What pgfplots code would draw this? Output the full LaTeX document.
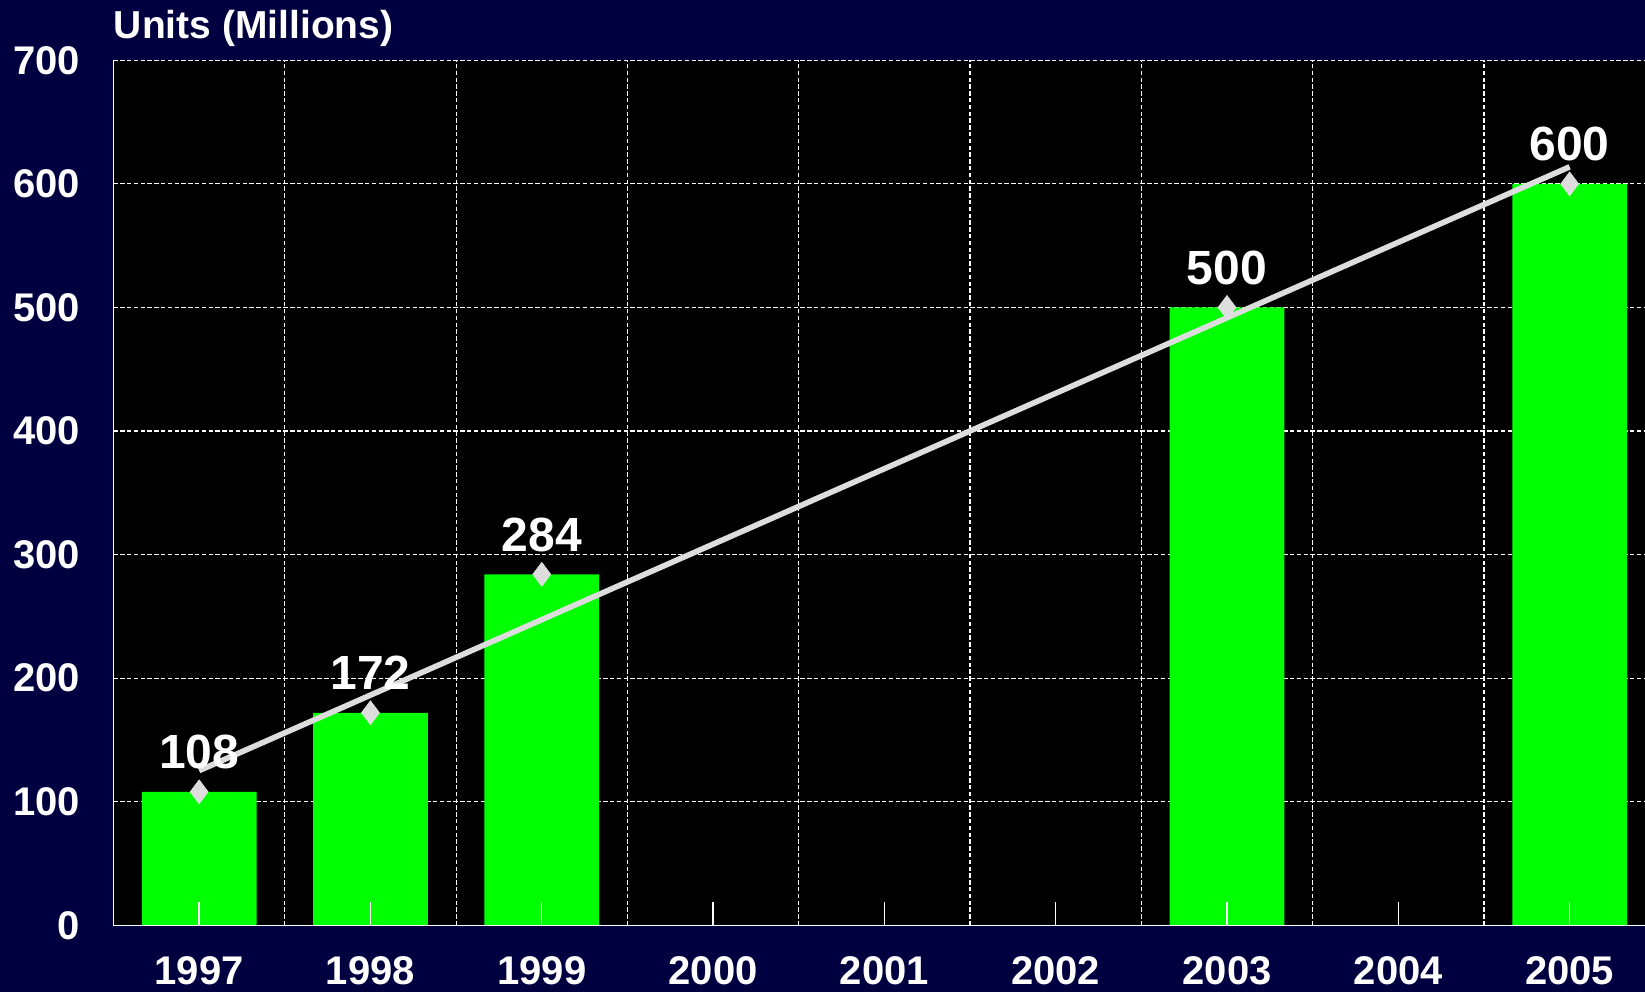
\documentclass[border=0pt]{standalone}
\usepackage{fontspec}
\setmainfont{Liberation Sans}
\usepackage{pgfplots}
\pgfplotsset{compat=1.18}
\definecolor{navybg}{RGB}{0,0,64}
\definecolor{barGreen}{RGB}{0,255,0}
\definecolor{trendGray}{RGB}{221,221,221}

\begin{document}
\begin{tikzpicture}
% page background (picture is cropped on the right, like the original)
\fill[navybg] (-56.75pt,-33.35pt) rectangle (765.75pt,462.65pt);
\begin{axis}[
    scale only axis,
    width=770.9pt, height=432.5pt,
    xmin=-0.5, xmax=8.5, ymin=0, ymax=700,
    axis background/.style={fill=black},
    separate axis lines,
    axis x line*=bottom, axis y line*=left,
    axis line style={white, line width=0.8pt},
    xtick={0,...,8},
    xticklabels={1997,1998,1999,2000,2001,2002,2003,2004,2005},
    minor xtick={0.5,1.5,...,7.5},
    ytick={0,100,...,700},
    major tick length=0pt, minor tick length=0pt,
    xmajorgrids=false, xminorgrids=true, ymajorgrids=true,
    grid style={white, line width=0.6pt, dash pattern=on 2.2pt off 1.2pt},
    minor grid style={white, line width=0.6pt, dash pattern=on 2.2pt off 1.2pt},
    tick label style={white, font=\fontsize{20}{24}\selectfont\bfseries},
    /pgf/number format/assume math mode=true,
    yticklabel style={anchor=east, inner sep=0pt, xshift=-16.5pt},
    xticklabel style={anchor=base, inner sep=0pt, yshift=-29.5pt},
    title={Units (Millions)},
    title style={at={(0,1)}, anchor=base west, inner sep=0pt, yshift=4.8pt,
        text=white, font=\fontsize{19.5}{23}\selectfont\bfseries},
    clip=false,
]
    \addplot[ybar, bar width=0.67, bar shift=0pt, fill=barGreen, draw=none]
        coordinates {(0,108) (1,172) (2,284) (6,500) (8,600)};
    \addplot[only marks, mark=diamond*, mark size=6pt,
        mark options={fill=trendGray, draw=trendGray, line width=0.3pt},
        nodes near coords,
        every node near coord/.append style={text=white, anchor=base,
            inner sep=0pt, yshift=11.5pt,
            font=\fontsize{24}{28}\selectfont\bfseries}]
        coordinates {(0,108) (1,172) (2,284) (6,500) (8,600)};
    % linear trend
    \addplot[trendGray, line width=2.8pt, no marks]
        coordinates {(0,125.2) (8,613.8)};
\end{axis}
% overlay: bottom axis line and inward ticks on top of the bars
\begin{axis}[
    scale only axis,
    width=770.9pt, height=432.5pt,
    xmin=-0.5, xmax=8.5, ymin=0, ymax=700,
    axis x line*=bottom, axis y line=none,
    axis line style={white, line width=0.8pt},
    xtick={0,...,8}, xticklabels={}, ytick=\empty,
    tick align=inside, major tick length=11.5pt,
    tick style={white, line width=0.7pt},
]
\end{axis}
\pgfresetboundingbox
\path[use as bounding box] (-56.75pt,-33.35pt) rectangle (765.75pt,462.65pt);
\end{tikzpicture}
\end{document}
